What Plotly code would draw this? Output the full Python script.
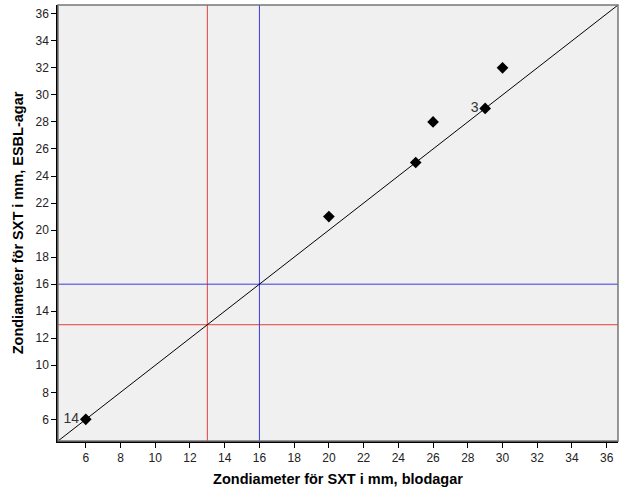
import plotly.graph_objects as go

blodagar = [6, 20, 25, 26, 29, 30]
esbl_agar = [6, 21, 25, 28, 29, 32]
point_labels = ["14", "", "", "", "3", ""]
ticks = list(range(6, 37, 2))
red_break = 13
blue_break = 16
axis_range = [4.4, 36.65]

fig = go.Figure()

# diagonal reference line
fig.add_trace(go.Scatter(x=axis_range, y=axis_range, mode="lines",
                         line=dict(color="black", width=1), hoverinfo="skip", showlegend=False))

fig.add_trace(go.Scatter(
    x=blodagar, y=esbl_agar, mode="markers+text",
    marker=dict(symbol="diamond", size=9, color="black"),
    text=point_labels, textposition="middle left",
    textfont=dict(family="Arial, Liberation Sans", size=14, color="#333"),
    showlegend=False))

for v, c in [(red_break, "#e0403a"), (blue_break, "#3a3ae0")]:
    fig.add_shape(type="line", x0=v, x1=v, y0=axis_range[0], y1=axis_range[1],
                  line=dict(color=c, width=1), layer="below")
    fig.add_shape(type="line", y0=v, y1=v, x0=axis_range[0], x1=axis_range[1],
                  line=dict(color=c, width=1), layer="below")

# frame (top/right gray)
fig.add_shape(type="rect", xref="paper", yref="paper", x0=0, x1=1, y0=0, y1=1,
              line=dict(color="#777777", width=1.5), layer="above")

axis_common = dict(range=axis_range, tickvals=ticks, ticks="outside", ticklen=5,
                   tickcolor="black", showline=True, linecolor="black", linewidth=1.5,
                   showgrid=False, zeroline=False, automargin=False,
                   tickfont=dict(family="Arial, Liberation Sans", size=12, color="#222"))

fig.update_xaxes(**axis_common,
                 title=dict(text="<b>Zondiameter för SXT i mm, blodagar</b>",
                            font=dict(family="Arial, Liberation Sans", size=14.5, color="black"),
                            standoff=10))
fig.update_yaxes(**axis_common,
                 title=dict(text="<b>Zondiameter för SXT i mm, ESBL-agar</b>",
                            font=dict(family="Arial, Liberation Sans", size=14.5, color="black"),
                            standoff=8))

fig.update_layout(width=626, height=501, margin=dict(l=58, r=8, t=5, b=60),
                  plot_bgcolor="#f0f0f0", paper_bgcolor="white")

fig.write_html("out.html", config={"displayModeBar": False},
               post_script="document.body.style.margin='0';")
